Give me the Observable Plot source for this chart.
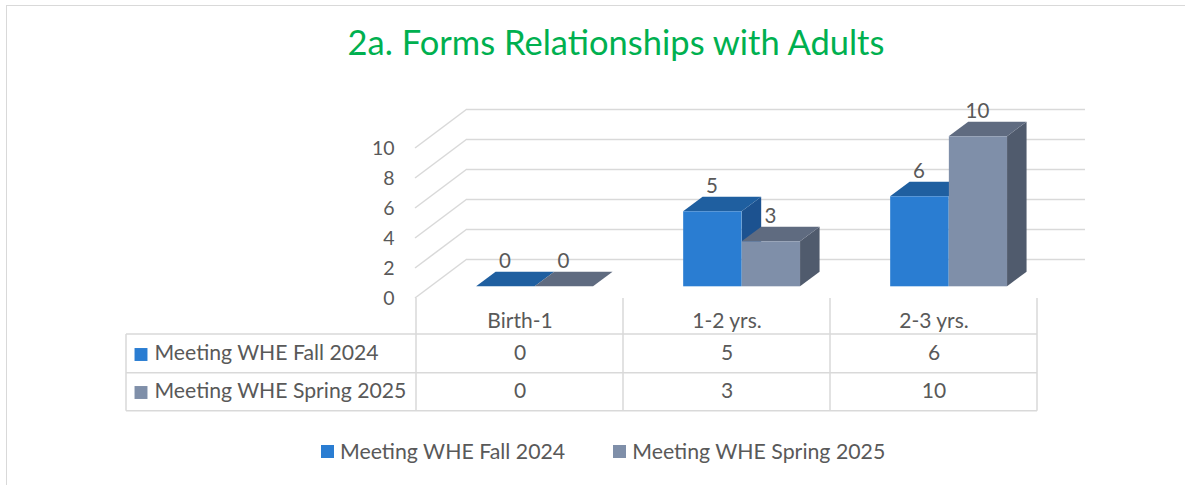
<!DOCTYPE html>
<html>
<head>
<meta charset="utf-8">
<script src="https://cdn.jsdelivr.net/npm/d3@7"></script>
<script src="https://cdn.jsdelivr.net/npm/@observablehq/plot@0.6"></script>
<style>
  html, body { margin: 0; padding: 0; background: #fff; }
  #wrap { position: relative; width: 1185px; height: 485px; overflow: hidden; font-family: Lato, "Liberation Sans", sans-serif; color: #595959; }
  #frame { position: absolute; left: 6px; top: 5px; width: 1300px; height: 600px; border-left: 1.5px solid #d9d9d9; border-top: 1.5px solid #d9d9d9; box-sizing: border-box; }
  #title { position: absolute; left: 0; width: 1232px; top: 22px; text-align: center; font-size: 34.5px; color: #00B050; line-height: 40px; white-space: nowrap; }
  #chart { position: absolute; left: 0; top: 90px; }
  #legend { position: absolute; top: 437px; left: 321px; display: flex; align-items: center; font-size: 21.3px; line-height: 28px; white-space: nowrap; }
  .sw { display: inline-block; width: 13px; height: 13px; margin-right: 6px; }
  .item { display: flex; align-items: center; }
</style>
</head>
<body>
<div id="wrap">
  <div id="frame"></div>
  <div id="title"></div>
  <div id="chart"></div>
  <div id="legend"></div>
</div>
<script>
// ---- data ----
const categories = ["Birth-1", "1-2 yrs.", "2-3 yrs."];
const seriesNames = ["Meeting WHE Fall 2024", "Meeting WHE Spring 2025"];
const fallValues = [0, 5, 6];
const springValues = [0, 3, 10];
const yTicks = [0, 2, 4, 6, 8, 10];
const titleText = "2a. Forms Relationships with Adults";

// ---- styling / layout ----
const W = 1185, H = 330;
const ML = 415, MR = 148, MT = 58, MB = 122;
const BW = (W - ML - MR) / categories.length;
const WALL = {x: 52, y: -39};          // floor depth (front -> back wall)
const FRONT = {x: 15.6, y: -11.7};     // bar front face offset
const BACK = {x: 35.1, y: -26.3};      // bar back face offset
const G0 = 0.215, GM = 0.498, G1 = 0.78; // bar positions within band
const colors = {
  fall: {front: "#2A7DD2", top: "#1F5FA0", side: "#1C5290"},
  spring: {front: "#7F8FA9", top: "#5F6B80", side: "#505B6D"}
};
const grid = "#d9d9d9";
const textColor = "#595959";
const FONT = 'Lato, "Liberation Sans", sans-serif';

const fallData = categories.map((c, i) => ({cat: c, value: fallValues[i]}));
const springData = categories.map((c, i) => ({cat: c, value: springValues[i]}));

document.getElementById("title").textContent = titleText;

const svgNS = "http://www.w3.org/2000/svg";
function el(name, attrs) {
  const e = document.createElementNS(svgNS, name);
  for (const k in attrs) e.setAttribute(k, attrs[k]);
  return e;
}
function bandwidth(scales) {
  return scales.x && typeof scales.x.bandwidth === "function" ? scales.x.bandwidth() : BW;
}

// back-wall diagonals (front edge to back wall)
function wallMark(index, scales, values, dims) {
  const g = el("g", {fill: "none", stroke: grid, "stroke-width": 1.5});
  for (const t of yTicks) {
    const y = scales.y(t);
    const x = dims.marginLeft;
    g.appendChild(el("path", {d: `M${x},${y}L${x + WALL.x},${y + WALL.y}`}));
  }
  return g;
}

// 3D top and side faces of bars
function facesMark(data, lo, hi, col) {
  return function(index, scales) {
    const bw = bandwidth(scales);
    const g = el("g", {});
    for (const d of data) {
      const b = scales.x(d.cat);
      const X0 = b + lo * bw, X1 = b + hi * bw;
      const yv = scales.y(d.value), y0 = scales.y(0);
      const side = `M${X1 + FRONT.x},${yv + FRONT.y}L${X1 + BACK.x},${yv + BACK.y}L${X1 + BACK.x},${y0 + BACK.y}L${X1 + FRONT.x},${y0 + FRONT.y}Z`;
      const top = `M${X0 + FRONT.x},${yv + FRONT.y}L${X1 + FRONT.x},${yv + FRONT.y}L${X1 + BACK.x},${yv + BACK.y}L${X0 + BACK.x},${yv + BACK.y}Z`;
      g.appendChild(el("path", {d: side, fill: col.side}));
      g.appendChild(el("path", {d: top, fill: col.top}));
    }
    return g;
  };
}

// data table grid
const ROW = [36, 74.7, 112.7]; // row bottoms below the floor front edge
const TABLE_LEFT = 126;
function tableMark(index, scales, values, dims) {
  const bw = bandwidth(scales);
  const y0 = scales.y(0);
  const g = el("g", {fill: "none", stroke: grid, "stroke-width": 1.5});
  const right = scales.x(categories[categories.length - 1]) + bw;
  for (const c of categories) {
    const x = scales.x(c);
    g.appendChild(el("path", {d: `M${x},${y0}V${y0 + ROW[2]}`}));
  }
  g.appendChild(el("path", {d: `M${right},${y0}V${y0 + ROW[2]}`}));
  g.appendChild(el("path", {d: `M${TABLE_LEFT},${y0 + ROW[0]}V${y0 + ROW[2]}`}));
  for (const r of ROW) g.appendChild(el("path", {d: `M${TABLE_LEFT},${y0 + r}H${right}`}));
  return g;
}

const fallDx = ((G0 + GM) / 2 - 0.5) * BW + FRONT.x;
const springDx = ((GM + G1) / 2 - 0.5) * BW + FRONT.x;
const labelDy = FRONT.y - 25;

const chart = Plot.plot({
  width: W, height: H,
  marginLeft: ML, marginRight: MR, marginTop: MT, marginBottom: MB,
  style: {fontFamily: FONT, color: textColor, background: "transparent", overflow: "visible"},
  x: {type: "band", domain: categories, padding: 0, axis: null},
  y: {domain: [0, 10], axis: null},
  marks: [
    Plot.ruleY(yTicks, {dx: WALL.x, dy: WALL.y, insetRight: 4, stroke: grid, strokeWidth: 1.5}),
    wallMark,
    Plot.axisY({ticks: yTicks, tickSize: 0, tickPadding: 21, fontSize: 19.5, fill: textColor, anchor: "left", label: null}),
    tableMark,
    // fall bars
    facesMark(fallData, G0, GM, colors.fall),
    Plot.barY(fallData, {x: "cat", y: "value", fill: colors.fall.front, insetLeft: G0 * BW, insetRight: (1 - GM) * BW, dx: FRONT.x, dy: FRONT.y}),
    // spring bars
    facesMark(springData, GM, G1, colors.spring),
    Plot.barY(springData, {x: "cat", y: "value", fill: colors.spring.front, insetLeft: GM * BW, insetRight: (1 - G1) * BW, dx: FRONT.x, dy: FRONT.y}),
    // data labels
    Plot.text(fallData, {x: "cat", y: "value", text: d => String(d.value), dx: fallDx - 1, dy: labelDy, fontSize: 20.5, fill: textColor, lineAnchor: "middle"}),
    Plot.text(springData, {x: "cat", y: "value", text: d => String(d.value), dx: springDx - 1, dy: labelDy, fontSize: 20.5, fill: textColor, lineAnchor: "middle"}),
    // data table text
    Plot.text(categories, {x: d => d, frameAnchor: "bottom", dy: 23, fontSize: 21, fill: textColor, lineAnchor: "middle"}),
    Plot.text(fallData, {x: "cat", text: d => String(d.value), frameAnchor: "bottom", dy: 55, fontSize: 21, fill: textColor, lineAnchor: "middle"}),
    Plot.text(springData, {x: "cat", text: d => String(d.value), frameAnchor: "bottom", dy: 93, fontSize: 21, fill: textColor, lineAnchor: "middle"}),
    Plot.text([seriesNames[0]], {text: d => d, frameAnchor: "bottom-left", dx: 154 - ML, dy: 55, textAnchor: "start", fontSize: 21.2, fill: textColor, lineAnchor: "middle"}),
    Plot.text([seriesNames[1]], {text: d => d, frameAnchor: "bottom-left", dx: 154 - ML, dy: 93, textAnchor: "start", fontSize: 21.2, fill: textColor, lineAnchor: "middle"}),
    Plot.dot([seriesNames[0]], {frameAnchor: "bottom-left", dx: 140.5 - ML, dy: 56, symbol: "square", r: 7.3, fill: colors.fall.front, stroke: null}),
    Plot.dot([seriesNames[1]], {frameAnchor: "bottom-left", dx: 140.5 - ML, dy: 94, symbol: "square", r: 7.3, fill: colors.spring.front, stroke: null})
  ]
});
document.getElementById("chart").appendChild(chart);

// legend
const legend = document.getElementById("legend");
seriesNames.forEach((name, i) => {
  const item = document.createElement("div");
  item.className = "item";
  if (i > 0) item.style.marginLeft = "48px";
  const sw = document.createElement("span");
  sw.className = "sw";
  sw.style.background = i === 0 ? colors.fall.front : colors.spring.front;
  const t = document.createElement("span");
  t.textContent = name;
  item.appendChild(sw);
  item.appendChild(t);
  legend.appendChild(item);
});
</script>
</body>
</html>
